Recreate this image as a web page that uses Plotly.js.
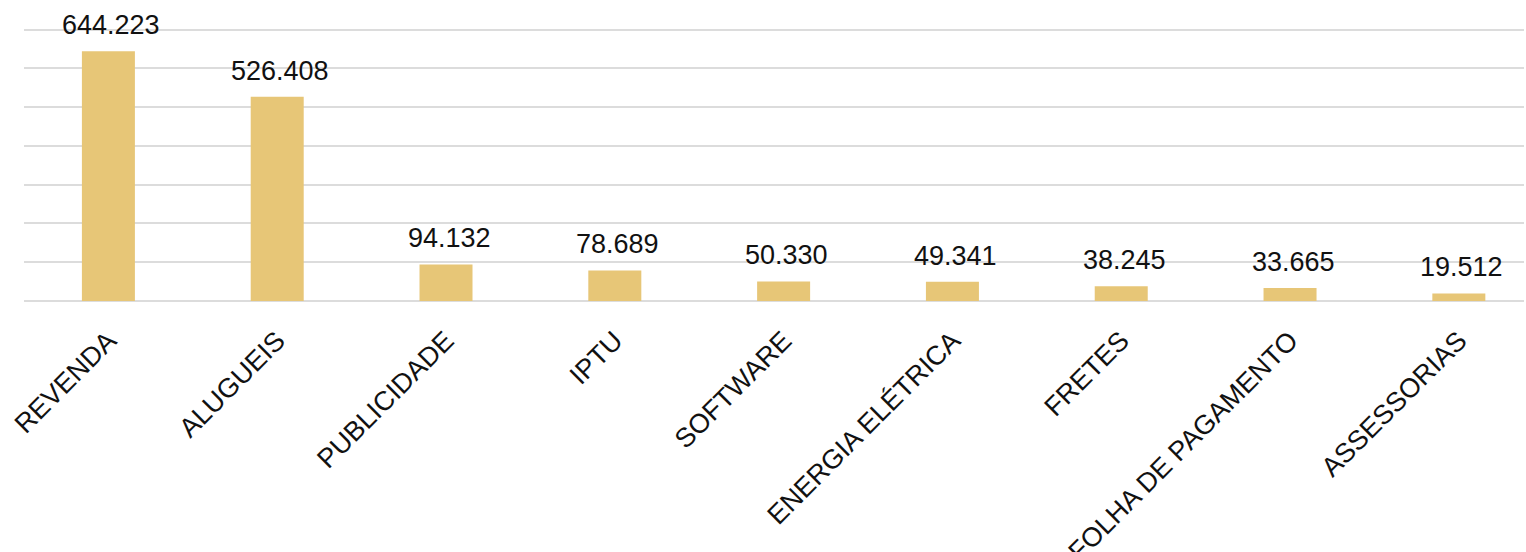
<!DOCTYPE html>
<html>
<head>
<meta charset="utf-8">
<script src="https://cdn.plot.ly/plotly-3.0.1.min.js"></script>
<style>html,body{margin:0;padding:0;background:#fff;}#chart{width:1526px;height:552px;}</style>
</head>
<body>
<div id="chart"></div>
<script>
const categories = ["REVENDA", "ALUGUEIS", "PUBLICIDADE", "IPTU", "SOFTWARE", "ENERGIA ELÉTRICA", "FRETES", "FOLHA DE PAGAMENTO", "ASSESSORIAS"];
const values = [644223, 526408, 94132, 78689, 50330, 49341, 38245, 33665, 19512];
const valueLabels = ["644.223", "526.408", "94.132", "78.689", "50.330", "49.341", "38.245", "33.665", "19.512"];

const barColor = "#E7C677";
const font = "'Liberation Sans', Arial, sans-serif";

const trace = {
  type: "bar",
  x: categories,
  y: values,
  marker: {color: barColor},
  hoverinfo: "none"
};

const annotations = categories.map((c, i) => ({
  x: c, y: values[i], xref: "x", yref: "y",
  text: valueLabels[i], showarrow: false,
  yanchor: "bottom", xanchor: "center",
  yshift: 9, xshift: 3,
  font: {family: font, size: 27, color: "#111"}
}));

const layout = {
  width: 1526, height: 552,
  margin: {l: 24, r: 2, t: 28, b: 251},
  paper_bgcolor: "#fff", plot_bgcolor: "#fff",
  bargap: 0.686,
  showlegend: false,
  xaxis: {
    type: "category",
    range: [-0.5, 8.386],
    tickangle: -45,
    tickfont: {family: font, size: 27, color: "#111"},
    showgrid: false, zeroline: false, showline: false,
    ticks: "outside", ticklen: 12, tickcolor: "rgba(0,0,0,0)",
    fixedrange: true
  },
  yaxis: {
    range: [0, 703900],
    dtick: 100000,
    showticklabels: false,
    showgrid: true, gridcolor: "#dcdcdc", gridwidth: 2,
    zeroline: true, zerolinecolor: "#dcdcdc", zerolinewidth: 2,
    showline: false, fixedrange: true
  },
  annotations: annotations
};

Plotly.newPlot("chart", [trace], layout, {displayModeBar: false, staticPlot: true});
</script>
</body>
</html>
